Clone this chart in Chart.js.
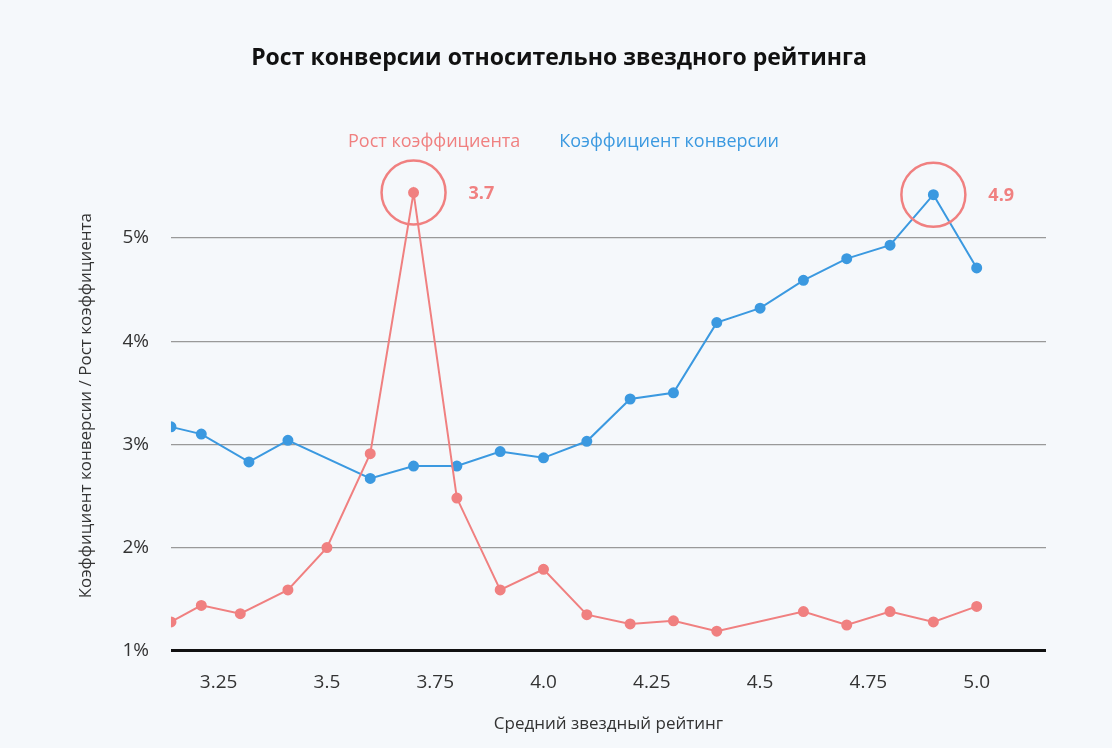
<!DOCTYPE html>
<html><head><meta charset="utf-8">
<script src="https://cdn.jsdelivr.net/npm/chart.js@4/dist/chart.umd.min.js"></script>
<style>html,body{margin:0;background:#f5f8fb;}#w{width:1112px;height:748px;}</style>
</head><body><div id="w"><canvas id="c"></canvas></div>
<script>
const blueX = [3.14,3.21,3.32,3.41,3.6,3.7,3.8,3.9,4.0,4.1,4.2,4.3,4.4,4.5,4.6,4.7,4.8,4.9,5.0];
const blueY = [3.17,3.10,2.83,3.04,2.67,2.79,2.79,2.93,2.87,3.03,3.44,3.50,4.18,4.32,4.59,4.80,4.93,5.42,4.71];
const redX = [3.14,3.21,3.30,3.41,3.5,3.6,3.7,3.8,3.9,4.0,4.1,4.2,4.3,4.4,4.6,4.7,4.8,4.9,5.0];
const redY = [1.28,1.44,1.36,1.59,2.0,2.91,5.44,2.48,1.59,1.79,1.35,1.26,1.29,1.19,1.38,1.25,1.38,1.28,1.43];
const xTicks = [3.25,3.5,3.75,4.0,4.25,4.5,4.75,5.0];
const yTicks = [1,2,3,4,5];
const highlights = [{ds:0, idx:6, label:'3.7'}, {ds:1, idx:17, label:'4.9'}];
const RED = '#f08080', BLUE = '#3b99e0';

const hlPlugin = {
  id:'hl',
  afterDatasetsDraw(chart){
    const ctx = chart.ctx;
    highlights.forEach(h=>{
      const p = chart.getDatasetMeta(h.ds).data[h.idx];
      ctx.save();
      ctx.strokeStyle = RED; ctx.lineWidth = 2.5;
      ctx.beginPath(); ctx.arc(p.x, p.y, 32, 0, Math.PI*2); ctx.stroke();
      ctx.fillStyle = RED; ctx.font = 'bold 18px "Open Sans"';
      ctx.textBaseline = 'middle';
      ctx.fillText(h.label, p.x + 55, p.y + 1);
      ctx.restore();
    });
  }
};

new Chart(document.getElementById('c'), {
  type:'line',
  data:{datasets:[
    {label:'Рост коэффициента', data:redX.map((x,i)=>({x, y:redY[i]})), borderColor:RED, backgroundColor:RED, pointRadius:4.5, borderWidth:2, tension:0},
    {label:'Коэффициент конверсии', data:blueX.map((x,i)=>({x, y:blueY[i]})), borderColor:BLUE, backgroundColor:BLUE, pointRadius:4.5, borderWidth:2, tension:0}
  ]},
  options:{
    responsive:true, maintainAspectRatio:false, animation:false,
    layout:{padding:{left:72,right:66,top:45,bottom:10}},
    plugins:{
      title:{display:true, text:'Рост конверсии относительно звездного рейтинга', color:'#111', font:{size:23, weight:'bold', family:'"Open Sans"'}, padding:{bottom:30}},
      legend:{labels:{boxWidth:0, padding:30, font:{size:18, family:'"Open Sans"'},
        generateLabels(chart){ return chart.data.datasets.map((d,i)=>({text:d.label, fontColor:d.borderColor, fillStyle:'transparent', strokeStyle:'transparent', lineWidth:0, datasetIndex:i})); }}},
      tooltip:{enabled:false}
    },
    scales:{
      x:{type:'linear', min:3.14, max:5.16,
        afterBuildTicks(s){ s.ticks = xTicks.map(v=>({value:v})); },
        ticks:{color:'#333', font:{size:19, family:'"Open Sans"'}, padding:12, callback:v=> v%1===0 ? v.toFixed(1) : String(v)},
        grid:{display:false}, border:{display:false},
        title:{display:true, text:'Средний звездный рейтинг', color:'#333', font:{size:17, family:'"Open Sans"'}, padding:{top:8}}},
      y:{min:1, max:5.75,
        afterBuildTicks(s){ s.ticks = yTicks.map(v=>({value:v})); },
        ticks:{color:'#333', font:{size:19, family:'"Open Sans"'}, padding:22, callback:v=>v+'%'},
        grid:{color:c=> c.tick.value===1 ? '#111' : '#999', lineWidth:c=> c.tick.value===1 ? 3 : 1.2, drawTicks:false},
        border:{display:false},
        title:{display:true, text:'Коэффициент конверсии / Рост коэффициента', color:'#333', font:{size:17, family:'"Open Sans"'}}}
    }
  },
  plugins:[hlPlugin]
});
</script></body></html>
